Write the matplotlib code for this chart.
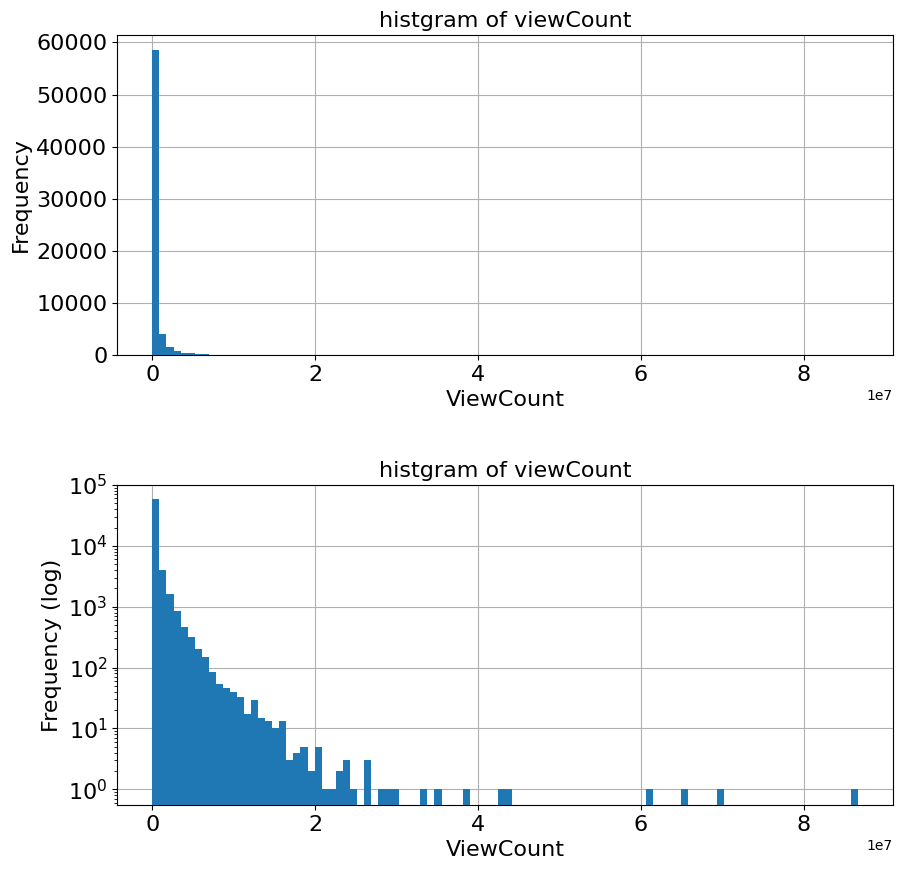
import numpy as np
import matplotlib
matplotlib.use("Agg")
import matplotlib.pyplot as plt

n_bins = 100
max_view = 8.66e7
counts = np.zeros(n_bins)
head_counts = [58500, 3940, 1590, 838, 459, 314, 200, 148, 84, 53, 46, 39, 33, 17, 29,
               15, 13, 10, 13, 3, 4, 5, 2, 5, 1, 1, 2, 3, 1, 0, 3, 0, 1, 1, 1]
tail_bins = [38, 40, 44, 49, 50, 70, 75, 80, 99]
tail_counts = [1, 1, 1, 1, 1, 1, 1, 1, 1]
counts[:len(head_counts)] = head_counts
counts[tail_bins] = tail_counts
edges = np.linspace(0, max_view, n_bins + 1)

fig = plt.figure(figsize=(9.01, 8.69), dpi=100)
ax1 = fig.add_axes([0.130, 1 - 355/869, 0.861, 320/869])
ax2 = fig.add_axes([0.130, 1 - 805/869, 0.861, 320/869])
for ax, log in zip([ax1, ax2], [False, True]):
    ax.hist(edges[:-1], bins=edges, weights=counts, color='#1f77b4', log=log, zorder=3)
    ax.grid(True, zorder=0)
    ax.set_axisbelow(True)
    ax.set_title('histgram of viewCount', fontsize=16)
    ax.set_xlabel('ViewCount', fontsize=16)
    ax.set_ylabel('Frequency (log)' if log else 'Frequency', fontsize=16)
    ax.tick_params(labelsize=16)
    ax.xaxis.get_offset_text().set_fontsize(10)
ax1.set_yticks([0, 10000, 20000, 30000, 40000, 50000, 60000])
ax2.set_ylim(0.55, 1e5)
fig.savefig('out.png')
